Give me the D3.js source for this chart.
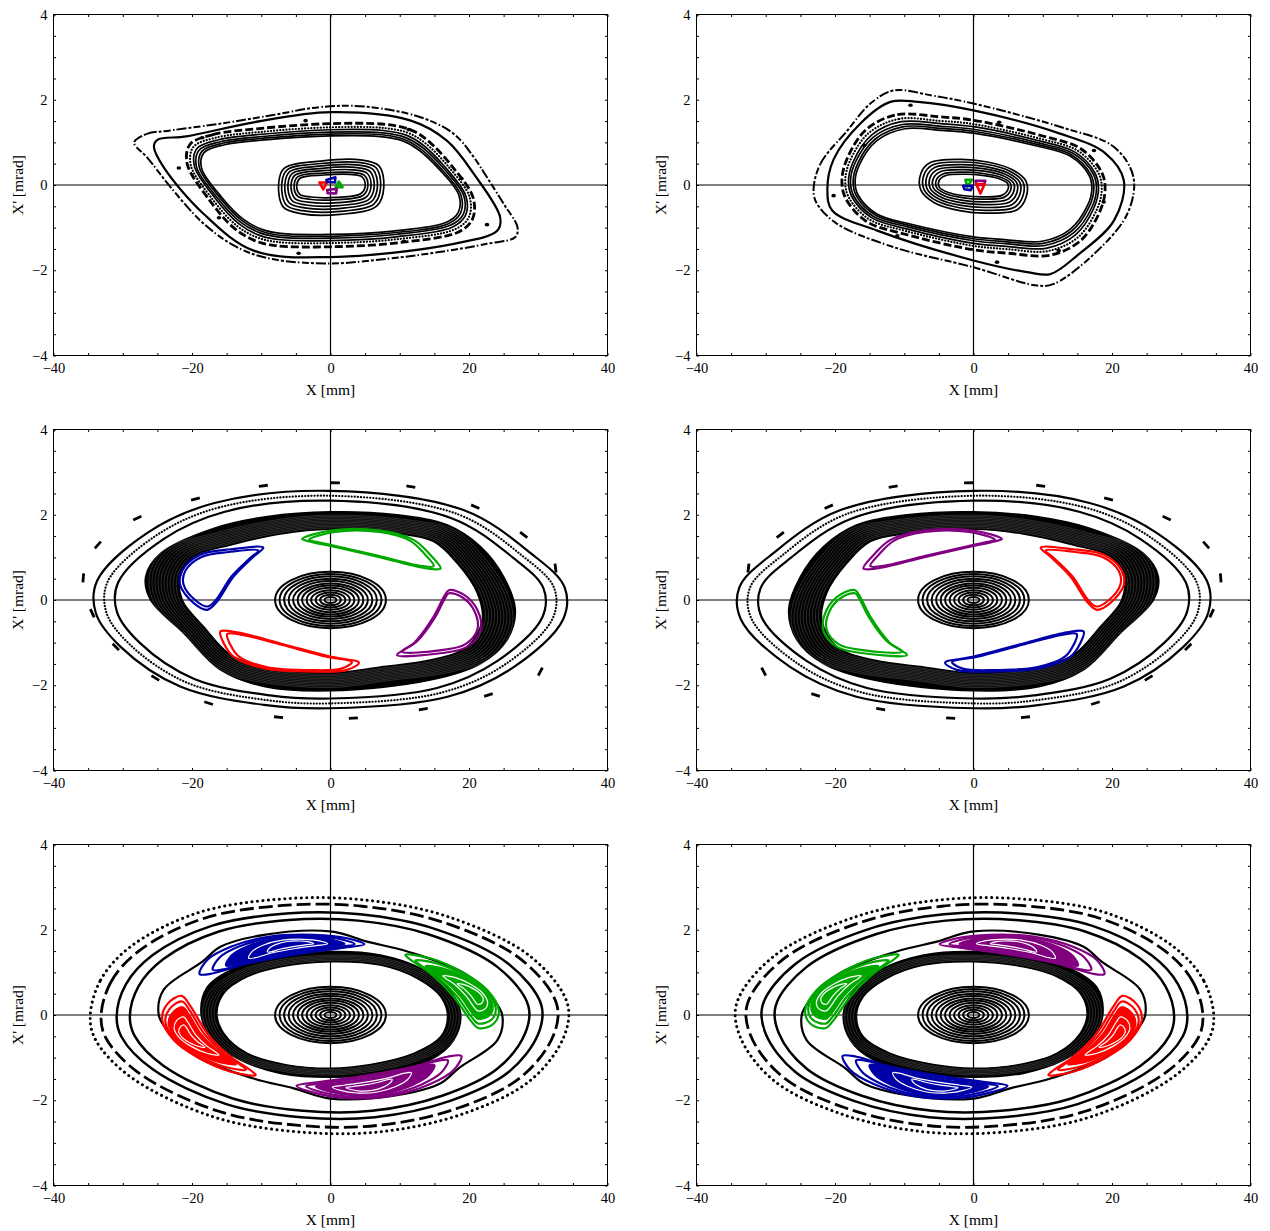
<!DOCTYPE html>
<html>
<head>
<meta charset="utf-8">
<script src="https://cdn.jsdelivr.net/npm/d3@7"></script>
<style>
  html, body { margin: 0; padding: 0; background: #fff; }
  svg { display: block; }
  text { font-family: "Liberation Serif", "Times New Roman", serif; fill: #000; }
</style>
</head>
<body>
<svg id="fig" width="1270" height="1231"></svg>
<script>
// ---------- axes ----------
const xTickValues = [-40,-35,-30,-25,-20,-15,-10,-5,0,5,10,15,20,25,30,35,40];
const xTickLabels = [-40,-20,0,20,40];
const yTickValues = [-4,-3.5,-3,-2.5,-2,-1.5,-1,-0.5,0,0.5,1,1.5,2,2.5,3,3.5,4];
const yTickLabels = [-4,-2,0,2,4];
const xTitle = "X [mm]";
const yTitle = "X' [mrad]";

const COLORS = { red: "#ff0000", green: "#00a800", blue: "#0000a8", purple: "#800080" };

// ---------- top row, left ----------
const tlOuter = [[-28.3,1.02],[-26.5,1.2],[-23.1,1.28],[-15.9,1.44],[-8.7,1.63],[-1.4,1.83],[5,1.84],[13.0,1.59],[17.8,1.2],[20.7,0.65],[22.6,0.18],[25.0,-0.44],[27.0,-0.99],[26.7,-1.22],[22.6,-1.38],[15.4,-1.58],[8.2,-1.73],[0,-1.84],[-8.7,-1.73],[-13.5,-1.46],[-18.3,-0.91],[-23.1,-0.05],[-26.5,0.65],[-28.3,0.95]];
const tlSecond = [[-25.5,0.9],[-25,1.06],[-20.8,1.14],[-11.1,1.47],[0,1.71],[11.6,1.51],[16.8,1.04],[20.7,0.26],[24.5,-0.76],[24.1,-1.07],[17.8,-1.38],[0,-1.69],[-11.1,-1.54],[-18.3,-0.68],[-24.1,0.42]];
const tlChain = [[-21.9,0.40],[-18.5,1.11],[-3.6,1.51],[11.3,1.30],[18.9,0.15],[22.6,-0.93],[10.6,-1.32],[-4.6,-1.60],[-16.1,-0.77]];
const tlMid = [[-20.3,0.95],[-17,1.18],[-10,1.33],[0,1.44],[8,1.42],[11.5,1.3],[14,1.05],[17.5,0.45],[20.6,-0.3],[20.5,-0.8],[18.5,-1.1],[10,-1.35],[0,-1.45],[-8,-1.42],[-11,-1.3],[-14,-1.0],[-17.5,-0.35],[-20.7,0.5]];
const tlMidScaleX = [1, 0.975, 0.95, 0.935, 0.915, 0.9];
const tlMidScaleY = [1, 0.94, 0.9, 0.86, 0.83, 0.8];
const tlMidStyles = ["dashed", "dotted", "thin", "thin", "thin", "thin"];
const tlCore = [[-6.7,0.39],[-1.4,0.56],[4.3,0.59],[7.0,0.45],[7.7,-0.05],[6.7,-0.49],[1.4,-0.69],[-4.3,-0.67],[-6.8,-0.52],[-7.5,0.0]];
const tlCoreScaleX = [1, 0.94, 0.88, 0.82, 0.76, 0.7, 0.65];
const tlCoreScaleY = [1, 0.9, 0.8, 0.7, 0.6, 0.5, 0.42];
const tlTinyRed = [[-1.6,0.06],[-0.5,0.06],[-1.05,-0.1]];
const tlTinyBlue = [[-0.6,0.12],[0.7,0.18],[0.65,0.06],[-0.5,0.07]];
const tlTinyGreen = [[0.75,-0.05],[1.2,0.08],[1.75,-0.05]];
const tlTinyPurple = [[-0.5,-0.12],[0.9,-0.09],[0.8,-0.2],[-0.4,-0.19]];

// ---------- top row, right ----------
const trOuter = [[-23.1,-0.13],[-22.1,0.50],[-18.2,1.28],[-14.9,1.91],[-11.5,2.22],[-6,2.1],[0,1.91],[12.6,1.36],[20.3,0.89],[23.1,0.18],[22.2,-0.68],[17.4,-1.62],[11.6,-2.32],[9.2,-2.36],[0,-1.93],[-11.5,-1.46],[-19.7,-0.91],[-22.6,-0.44]];
const trSecond = [[-21.1,-0.13],[-20.2,0.6],[-16.3,1.45],[-12,1.95],[-8,1.95],[0,1.75],[12.6,1.2],[19,0.75],[21.7,0.11],[20.3,-0.83],[15,-1.65],[11.1,-2.09],[8,-2.05],[0,-1.77],[-13.9,-1.07],[-20.4,-0.6]];
const trChain = [[-9.1,1.87],[3.7,1.47],[17.4,0.81],[18.8,-0.40],[12.3,-1.54],[3.4,-1.81],[-11.0,-1.19],[-20.2,-0.25],[-15.8,0.93]];
const trMid = [[-15.5,1.3],[-11,1.65],[-5,1.6],[0,1.52],[10,1.15],[15.5,0.85],[18.5,0.3],[19,-0.1],[18.3,-0.6],[15.5,-1.3],[11,-1.65],[5,-1.6],[0,-1.52],[-10,-1.15],[-15.5,-0.85],[-18.5,-0.3],[-19,0.1],[-18.3,0.6]];
const trCore = [[-6.3,0.52],[-2,0.6],[2,0.54],[5.6,0.36],[7.6,0.08],[7.6,-0.28],[6.3,-0.58],[2,-0.66],[-2,-0.6],[-5.6,-0.42],[-7.6,-0.12],[-7.6,0.27]];
const trTinyGreen = [[-1.15,0.12],[-0.25,0.12],[-0.9,-0.04]];
const trTinyBlue = [[-1.5,-0.02],[-0.1,-0.02],[-0.4,-0.12],[-1.3,-0.1]];
const trTinyPurple = [[0.3,0.1],[1.7,0.1],[1.5,0.0],[0.4,0.0]];
const trTinyRed = [[0.4,0.02],[1.6,0.02],[1.0,-0.2]];

// ---------- middle row (right panel is the X-mirror) ----------
const mlChain = [[-9.7,2.68],[0.7,2.75],[11.6,2.66],[20.9,2.19],[27.9,1.53],[32.5,0.75],[30.3,-1.68],[22.8,-2.23],[13.4,-2.56],[3.3,-2.77],[-7.5,-2.75],[-17.6,-2.42],[-25.3,-1.83],[-31.0,-1.10],[-34.4,-0.31],[-35.7,0.52],[-33.6,1.29],[-27.9,1.92],[-19.5,2.37]];
const mlRing = [[0,2.56],[-16.9,2.27],[-26.5,1.57],[-33.7,0.45],[-33.9,-0.3],[-30.3,-1.10],[-21.7,-2.03],[-9.6,-2.46],[0,-2.54],[16.9,-2.27],[26.5,-1.57],[33.6,-0.45],[33.8,0.3],[28.9,1.10],[19.2,2.11]];
const mlRingScale = [1, 0.955, 0.91];
const mlRingStyles = ["solid", "dotted", "solid"];
const mlBandOuter = [[0,2.07],[9.6,2.0],[16.9,1.76],[21.7,1.25],[25.0,0.55],[26.7,-0.23],[25.5,-0.94],[21.7,-1.49],[14.4,-1.88],[0,-2.13],[-9.6,-2.03],[-15.9,-1.64],[-21.2,-0.78],[-26.0,0],[-26.7,0.55],[-24.5,1.10],[-16.9,1.68],[-9.1,1.96]];
const mlBandInner = [[0,1.66],[9.6,1.56],[14.9,1.37],[18.3,0.86],[21.2,0.16],[21.9,-0.47],[19.7,-1.10],[14.4,-1.41],[7.2,-1.57],[0,-1.71],[-9.6,-1.57],[-14.4,-1.29],[-18.3,-0.63],[-21.4,0],[-21.7,0.55],[-19.7,1.02],[-14.4,1.29],[-7.2,1.55]];
// individual orbits packed inside the band, as amplitude relative to its inner edge
const mlBandLayers = [1.02, 1.04, 1.06, 1.08, 1.10, 1.12, 1.14, 1.16, 1.18, 1.20];
const mlBlue = [[-9.7,1.23],[-14.4,1.19],[-18.8,1.06],[-21.4,0.70],[-21.7,0.35],[-19.7,-0.08],[-17.8,-0.23],[-16.4,-0.04],[-14.0,0.55],[-11.1,1.02]];
const mlGreen = [[-4.1,1.43],[0,1.63],[7.2,1.63],[12.0,1.41],[14.4,1.06],[15.9,0.74],[14.0,0.74],[7.2,1.0],[0.5,1.25],[-2.9,1.37]];
const mlPurple = [[17.1,0.23],[19.3,0.12],[21.2,-0.23],[21.7,-0.70],[19.7,-1.10],[15.9,-1.25],[9.6,-1.29],[12.0,-1.02],[14.9,-0.39],[16.4,0.08]];
const mlRed = [[-15.9,-0.74],[-13.5,-0.76],[-7.2,-1.02],[0,-1.33],[4.1,-1.47],[2.4,-1.64],[-2.4,-1.68],[-9.6,-1.60],[-14.0,-1.33],[-15.4,-1.02]];
const mlIslandCentres = [[-17,0.55],[6,1.3],[17,-0.5],[-6,-1.33]];
const mlLeftColours = ["blue", "green", "purple", "red"];
const mlRightColours = ["red", "purple", "green", "blue"];
const mlLoopScale = [1, 0.9];

// ---------- bottom row (right panel is the X-mirror) ----------
const blOuter = [[-34.7,-0.04],[-33.2,0.82],[-28.9,1.60],[-19.3,2.39],[-7.2,2.72],[4.8,2.70],[16.9,2.31],[28.9,1.37],[34.2,0.27],[33.7,-0.51],[28.9,-1.53],[19.3,-2.31],[7.2,-2.74],[-4.8,-2.74],[-16.9,-2.39],[-28.9,-1.45],[-33.9,-0.59]];
const blRingScaleX = [1, 0.955, 0.89, 0.835];
const blRingScaleY = [1, 0.945, 0.875, 0.82];
const blRingStyles = ["bigdots", "longdash", "thick", "thick"];
const blSep = [[-24.8,0],[-24.1,0.59],[-18.5,1.25],[-15.9,1.6],[-9.6,1.88],[0,1.96],[5.3,1.72],[11.1,1.49],[19.3,0.98],[23.6,0.35],[24.8,0],[24.1,-0.59],[18.5,-1.25],[15.9,-1.6],[9.6,-1.88],[0,-1.96],[-5.3,-1.72],[-11.1,-1.49],[-19.3,-0.98],[-23.6,-0.35]];
const blBandOuter = [[-18.7,0.04],[-17.8,0.66],[-14.4,1.06],[-9.1,1.33],[0,1.49],[7.2,1.41],[13.0,1.10],[16.9,0.66],[18.8,0.04],[17.8,-0.59],[14.4,-1.06],[7.2,-1.37],[0,-1.46],[-7.2,-1.37],[-13.0,-1.06],[-17.1,-0.59]];
const blBandInner = [[-16.4,0.04],[-15.4,0.51],[-12.0,0.90],[-7.2,1.13],[0,1.25],[7.2,1.17],[12.5,0.86],[15.9,0.43],[16.9,-0.04],[15.9,-0.51],[12.0,-0.90],[5.8,-1.16],[0,-1.25],[-6.3,-1.17],[-12.0,-0.90],[-15.4,-0.43]];
const blBandLayers = [1.025, 1.05, 1.075, 1.10, 1.125];
const blBlue = [[-18.9,0.96],[-17.8,1.29],[-14.4,1.60],[-8.7,1.84],[-2.4,1.88],[2.4,1.80],[4.9,1.66],[1.4,1.57],[-4.8,1.43],[-12.0,1.21],[-16.9,0.98]];
const blGreen = [[10.8,1.41],[14.4,1.33],[19.3,0.98],[22.6,0.59],[24.3,0.12],[23.6,-0.20],[21.4,-0.31],[20.2,-0.12],[17.8,0.43],[14.4,0.98],[11.6,1.29]];
const blRed = [[-10.8,-1.41],[-14.4,-1.33],[-19.3,-0.98],[-22.6,-0.59],[-24.3,-0.12],[-23.6,0.25],[-21.5,0.45],[-20.2,0.2],[-17.8,-0.43],[-14.4,-0.98],[-11.6,-1.29]];
const blPurple = [[18.9,-0.96],[17.8,-1.29],[14.4,-1.62],[8.7,-1.9],[2.4,-1.95],[-2.4,-1.82],[-4.9,-1.66],[-1.4,-1.57],[4.8,-1.43],[12.0,-1.21],[16.9,-0.98]];
const blIslandCentres = [[-5.3,1.68],[21.2,0.47],[-21.0,-0.5],[5.0,-1.72]];
const blLeftColours = ["blue", "green", "red", "purple"];
const blRightColours = ["purple", "green", "red", "blue"];
const blLoopScale = [1, 0.86];
const blFillScale = 0.72;
const blInnerWhiteScale = [0.48, 0.28];

// central elliptic core shared by the lower four panels
const coreRx = [8.0,7.35,6.7,6.05,5.4,4.75,4.1,3.45,2.8,2.15,1.5,0.85];
const coreRy = [0.66,0.61,0.555,0.5,0.445,0.39,0.34,0.285,0.23,0.175,0.125,0.07];

// ---------- drawing ----------
const STYLES = {
  solid:   { w: 2.2 },
  thin:    { w: 1.7 },
  thick:   { w: 2.5 },
  dotted:  { w: 2.2, dash: "0.1 3", cap: "round" },
  dashed:  { w: 2.8, dash: "8 3" },
  sparse:  { w: 2.0, dash: "10 2 3 2 7 2.5 1.5 2" },
  bigdots: { w: 3.0, dash: "0.1 5.4", cap: "round" },
  longdash:{ w: 2.8, dash: "14 5" }
};

const svg = d3.select("#fig");
const PW = 554, PH = 341;
const LEFTS = [53.5, 696.5];
const TOPS = [14.5, 429.5, 844.5];
const FONT = '"Liberation Serif", "Times New Roman", serif';

function makePanel(col, row, id, mirror) {
  const x0 = LEFTS[col], y0 = TOPS[row];
  const xs = d3.scaleLinear().domain([-40, 40]).range([x0, x0 + PW]);
  const ys = d3.scaleLinear().domain([-4, 4]).range([y0 + PH, y0]);
  const sgn = mirror ? -1 : 1;
  const t = { x: v => xs(sgn * v), y: v => ys(v), xs, ys };
  svg.append("clipPath").attr("id", id)
    .append("rect").attr("x", x0).attr("y", y0).attr("width", PW).attr("height", PH);
  const g = svg.append("g");
  const plot = g.append("g").attr("clip-path", `url(#${id})`);
  // zero lines
  plot.append("line").attr("x1", xs(0)).attr("x2", xs(0)).attr("y1", y0).attr("y2", y0 + PH)
    .attr("stroke", "#000").attr("stroke-width", 1.2);
  plot.append("line").attr("x1", x0).attr("x2", x0 + PW).attr("y1", ys(0)).attr("y2", ys(0))
    .attr("stroke", "#000").attr("stroke-width", 1.2);
  t.g = g; t.plot = plot; t.x0 = x0; t.y0 = y0;
  return t;
}

function finishAxes(t) {
  const { g, xs, ys, x0, y0 } = t;
  const bare = s => s.select(".domain").remove();
  // inward ticks on all four sides
  g.append("g").attr("transform", `translate(0,${y0 + PH})`)
    .call(d3.axisBottom(xs).tickValues(xTickValues).tickSize(-2.5).tickFormat("")).call(bare);
  g.append("g").attr("transform", `translate(0,${y0})`)
    .call(d3.axisTop(xs).tickValues(xTickValues).tickSize(-2.5).tickFormat("")).call(bare);
  g.append("g").attr("transform", `translate(${x0},0)`)
    .call(d3.axisLeft(ys).tickValues(yTickValues).tickSize(-2.5).tickFormat("")).call(bare);
  g.append("g").attr("transform", `translate(${x0 + PW},0)`)
    .call(d3.axisRight(ys).tickValues(yTickValues).tickSize(-2.5).tickFormat("")).call(bare);
  // tick labels
  g.append("g").attr("transform", `translate(0,${y0 + PH})`)
    .call(d3.axisBottom(xs).tickValues(xTickLabels).tickSize(0).tickPadding(7.5).tickFormat(d3.format("d")))
    .call(bare).attr("font-family", FONT).attr("font-size", 14.5);
  g.append("g").attr("transform", `translate(${x0},0)`)
    .call(d3.axisLeft(ys).tickValues(yTickLabels).tickSize(0).tickPadding(6).tickFormat(d3.format("d")))
    .call(bare).attr("font-family", FONT).attr("font-size", 14.5);
  // frame
  g.append("rect").attr("x", x0).attr("y", y0).attr("width", PW).attr("height", PH)
    .attr("fill", "none").attr("stroke", "#000").attr("stroke-width", 1);
  // titles
  g.append("text").attr("x", x0 + PW / 2).attr("y", y0 + PH + 39.5)
    .attr("text-anchor", "middle").attr("font-size", 15.5).text(xTitle);
  g.append("text").attr("transform", `translate(${x0 - 31},${y0 + PH / 2}) rotate(-90)`)
    .attr("text-anchor", "middle").attr("font-size", 15.5).text(yTitle);
}

const closedLine = (t, curve) => d3.line().x(d => t.x(d[0])).y(d => t.y(d[1]))
  .curve(curve || d3.curveCatmullRomClosed.alpha(0.5));

function scaled(pts, c, sx, sy) {
  return pts.map(p => [c[0] + (p[0] - c[0]) * sx, c[1] + (p[1] - c[1]) * sy]);
}

function orbit(t, pts, styleName, color) {
  const s = STYLES[styleName];
  const p = t.plot.append("path").attr("d", closedLine(t)(pts))
    .attr("fill", "none").attr("stroke", color || "#000").attr("stroke-width", s.w)
    .attr("stroke-linejoin", "round");
  if (s.dash) p.attr("stroke-dasharray", s.dash);
  if (s.cap) p.attr("stroke-linecap", s.cap);
  return p;
}

// dense band of orbits: solid fill with faint gaps between the packed orbits
function band(t, outer, inner, layers) {
  const ln = closedLine(t);
  t.plot.append("path").attr("d", ln(outer) + ln(inner))
    .attr("fill", "#000").attr("fill-rule", "evenodd")
    .attr("stroke", "#000").attr("stroke-width", 1.5);
  t.plot.append("g").selectAll("path").data(layers).join("path")
    .attr("d", s => ln(scaled(inner, [0, 0], s, s)))
    .attr("fill", "none").attr("stroke", "#fff").attr("stroke-width", 0.45)
    .attr("stroke-opacity", 0.4);
}

function coreEllipses(t) {
  t.plot.append("g").selectAll("ellipse").data(coreRx).join("ellipse")
    .attr("cx", t.x(0)).attr("cy", t.y(0))
    .attr("rx", d => Math.abs(t.xs(d) - t.xs(0)))
    .attr("ry", (d, i) => t.ys(0) - t.ys(coreRy[i]))
    .attr("fill", "none").attr("stroke", "#000").attr("stroke-width", 2);
}

function chainDots(t, pts) {
  t.plot.append("g").selectAll("ellipse").data(pts).join("ellipse")
    .attr("cx", d => t.x(d[0])).attr("cy", d => t.y(d[1]))
    .attr("rx", 2.3).attr("ry", 1.8).attr("fill", "#000");
}

function chainDashes(t, pts, len) {
  const P = pts.map(p => [t.x(p[0]), t.y(p[1])]);
  const n = P.length;
  t.plot.append("g").selectAll("line").data(P).join("line")
    .each(function (p, i) {
      const a = P[(i - 1 + n) % n], b = P[(i + 1) % n];
      let dx = b[0] - a[0], dy = b[1] - a[1];
      const L = Math.hypot(dx, dy); dx /= L; dy /= L;
      d3.select(this)
        .attr("x1", p[0] - dx * len / 2).attr("y1", p[1] - dy * len / 2)
        .attr("x2", p[0] + dx * len / 2).attr("y2", p[1] + dy * len / 2);
    })
    .attr("stroke", "#000").attr("stroke-width", 2.8);
}

function tiny(t, pts, color) {
  t.plot.append("path").attr("d", closedLine(t, d3.curveLinearClosed)(pts))
    .attr("fill", "none").attr("stroke", color).attr("stroke-width", 2.6)
    .attr("stroke-linejoin", "round");
}

// --- top row ---
function drawTop(t, d) {
  orbit(t, d.outer, "sparse");
  orbit(t, d.second, "solid");
  chainDots(t, d.chain);
  d.midScaleX.forEach((sx, i) => orbit(t, scaled(d.mid, [0, 0], sx, d.midScaleY[i]), d.midStyles[i]));
  d.coreScaleX.forEach((sx, i) => orbit(t, scaled(d.core, [0, 0], sx, d.coreScaleY[i]), "thin"));
  d.tiny.forEach(([pts, c]) => tiny(t, pts, COLORS[c]));
  finishAxes(t);
}

drawTop(makePanel(0, 0, "clipA", false), {
  outer: tlOuter, second: tlSecond, chain: tlChain, mid: tlMid,
  midScaleX: tlMidScaleX, midScaleY: tlMidScaleY, midStyles: tlMidStyles,
  core: tlCore, coreScaleX: tlCoreScaleX, coreScaleY: tlCoreScaleY,
  tiny: [[tlTinyRed, "red"], [tlTinyBlue, "blue"], [tlTinyGreen, "green"], [tlTinyPurple, "purple"]]
});
drawTop(makePanel(1, 0, "clipB", false), {
  outer: trOuter, second: trSecond, chain: trChain, mid: trMid,
  midScaleX: tlMidScaleX, midScaleY: tlMidScaleY, midStyles: tlMidStyles,
  core: trCore, coreScaleX: tlCoreScaleX, coreScaleY: tlCoreScaleY,
  tiny: [[trTinyGreen, "green"], [trTinyBlue, "blue"], [trTinyPurple, "purple"], [trTinyRed, "red"]]
});

// --- middle row ---
function drawMiddle(t, colours) {
  chainDashes(t, mlChain, 9);
  mlRingScale.forEach((s, i) => orbit(t, scaled(mlRing, [0, 0], s, s), mlRingStyles[i]));
  band(t, mlBandOuter, mlBandInner, mlBandLayers);
  coreEllipses(t);
  [mlBlue, mlGreen, mlPurple, mlRed].forEach((pts, k) => {
    mlLoopScale.forEach(s => orbit(t, scaled(pts, mlIslandCentres[k], s, s), "solid", COLORS[colours[k]]));
  });
  finishAxes(t);
}
drawMiddle(makePanel(0, 1, "clipC", false), mlLeftColours);
drawMiddle(makePanel(1, 1, "clipD", true), mlRightColours);

// --- bottom row ---
function drawBottom(t, colours) {
  blRingScaleX.forEach((sx, i) => orbit(t, scaled(blOuter, [0, 0], sx, blRingScaleY[i]), blRingStyles[i]));
  band(t, blBandOuter, blBandInner, blBandLayers);
  orbit(t, blSep, "solid");
  coreEllipses(t);
  [blBlue, blGreen, blRed, blPurple].forEach((pts, k) => {
    const c = blIslandCentres[k], col = COLORS[colours[k]];
    blLoopScale.forEach(s => orbit(t, scaled(pts, c, s, s), "solid", col));
    t.plot.append("path").attr("d", closedLine(t)(scaled(pts, c, blFillScale, blFillScale)))
      .attr("fill", col).attr("stroke", col).attr("stroke-width", 2);
    blInnerWhiteScale.forEach(s => t.plot.append("path")
      .attr("d", closedLine(t)(scaled(pts, c, s, s)))
      .attr("fill", "none").attr("stroke", "#fff").attr("stroke-width", 1.2));
  });
  finishAxes(t);
}
drawBottom(makePanel(0, 2, "clipE", false), blLeftColours);
drawBottom(makePanel(1, 2, "clipF", true), blRightColours);
</script>
</body>
</html>
